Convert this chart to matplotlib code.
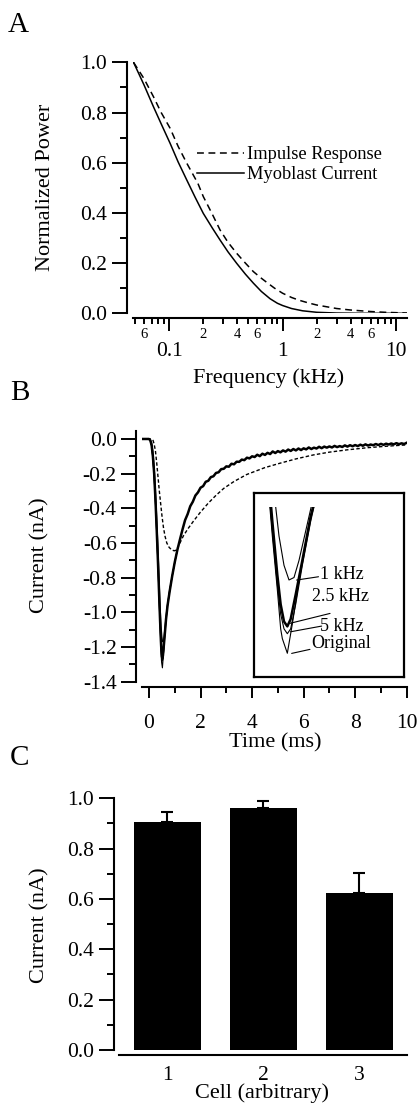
import numpy as np
import matplotlib
matplotlib.use("Agg")
import matplotlib.pyplot as plt
from matplotlib.ticker import FixedLocator, FuncFormatter, MultipleLocator

plt.rcParams['font.family'] = ['Liberation Serif', 'DejaVu Serif']
plt.rcParams['axes.unicode_minus'] = False

# ---- panel A: normalized power spectra ----
freq_myo = [0.0485, 0.060, 0.0727, 0.085, 0.102, 0.120, 0.143, 0.170, 0.200, 0.240, 0.281, 0.330,
            0.394, 0.470, 0.553, 0.650, 0.776, 0.900, 1.0, 1.2, 1.5, 2.0, 3.0, 5.0, 12.5]
pow_myo = [1.0, 0.91, 0.823, 0.755, 0.677, 0.603, 0.531, 0.461, 0.398, 0.340, 0.292, 0.245,
           0.199, 0.156, 0.120, 0.087, 0.058, 0.040, 0.031, 0.019, 0.010, 0.004, 0.001, 0.0, 0.0]
freq_imp = [0.0485, 0.060, 0.0727, 0.085, 0.102, 0.120, 0.143, 0.179, 0.200, 0.240, 0.281, 0.330,
            0.394, 0.470, 0.553, 0.640, 0.726, 0.850, 1.0, 1.2, 1.4, 1.7, 2.0, 3.0, 4.0, 6.0, 8.0, 12.5]
pow_imp = [1.0, 0.935, 0.863, 0.800, 0.737, 0.665, 0.598, 0.518, 0.465, 0.395, 0.332, 0.283,
           0.239, 0.200, 0.166, 0.142, 0.123, 0.100, 0.080, 0.063, 0.052, 0.041, 0.033, 0.019,
           0.013, 0.007, 0.004, 0.001]

# ---- panel B: currents (nA) vs time (ms) ----
t_orig = [-0.28, 0.0, 0.05, 0.10, 0.15, 0.20, 0.25, 0.30, 0.35, 0.40, 0.43, 0.46, 0.48, 0.49,
          0.52, 0.55, 0.60, 0.66, 0.72, 0.80, 0.90, 1.00, 1.10]
i_orig = [0, 0, -0.01, -0.04, -0.11, -0.22, -0.37, -0.55, -0.74, -0.96, -1.08, -1.19, -1.27, -1.29,
          -1.32, -1.26, -1.15, -1.04, -0.96, -0.88, -0.79, -0.71, -0.64]
t_filt = [-0.28, 0.0, 0.05, 0.10, 0.15, 0.20, 0.25, 0.30, 0.35, 0.40, 0.43, 0.46, 0.48, 0.50,
          0.52, 0.54, 0.57, 0.61, 0.66, 0.72, 0.80, 0.90, 1.00, 1.10]
i_5k = [0, 0, -0.01, -0.04, -0.11, -0.22, -0.37, -0.55, -0.74, -0.95, -1.07, -1.18, -1.24, -1.27,
        -1.28, -1.27, -1.22, -1.14, -1.05, -0.96, -0.88, -0.79, -0.71, -0.64]
i_2k5 = [0, 0, -0.008, -0.035, -0.10, -0.20, -0.35, -0.53, -0.72, -0.93, -1.05, -1.16, -1.22, -1.255,
         -1.265, -1.25, -1.20, -1.13, -1.04, -0.96, -0.88, -0.79, -0.71, -0.64]
t_1k = [-0.28, 0.0, 0.05, 0.10, 0.15, 0.20, 0.25, 0.30, 0.35, 0.40, 0.44, 0.47, 0.50, 0.53,
        0.56, 0.59, 0.63, 0.67, 0.72, 0.80, 0.90, 1.00, 1.10]
i_1k = [0, 0, -0.005, -0.02, -0.07, -0.16, -0.29, -0.45, -0.63, -0.84, -0.99, -1.08, -1.14, -1.17,
        -1.165, -1.13, -1.07, -1.01, -0.95, -0.87, -0.79, -0.71, -0.64]

# noisy decay of the recorded current, 1.2 .. 10.0 ms every 0.1 ms
t_tail = np.round(np.arange(1.2, 10.05, 0.1), 1)
i_tail = [-0.580, -0.522, -0.468, -0.433, -0.388, -0.362, -0.326, -0.308, -0.281, -0.272,
          -0.247, -0.241, -0.220, -0.215, -0.196, -0.192, -0.174, -0.172, -0.158, -0.160,
          -0.143, -0.146, -0.131, -0.132, -0.119, -0.122, -0.108, -0.112, -0.100, -0.104,
          -0.091, -0.099, -0.085, -0.092, -0.080, -0.087, -0.072, -0.081, -0.070, -0.077,
          -0.066, -0.073, -0.061, -0.069, -0.058, -0.066, -0.055, -0.064, -0.054, -0.060,
          -0.049, -0.058, -0.050, -0.055, -0.045, -0.053, -0.044, -0.050, -0.043, -0.049,
          -0.040, -0.047, -0.041, -0.046, -0.037, -0.044, -0.036, -0.042, -0.035, -0.041,
          -0.033, -0.039, -0.031, -0.038, -0.032, -0.036, -0.029, -0.035, -0.028, -0.034,
          -0.027, -0.032, -0.026, -0.031, -0.024, -0.030, -0.025, -0.029, -0.022]

t_imp = [-0.28, 0.10, 0.15, 0.20, 0.25, 0.30, 0.35, 0.40, 0.45, 0.50, 0.56, 0.62, 0.69, 0.78, 0.88,
         0.98, 1.07, 1.20, 1.33, 1.50, 1.72, 1.98, 2.30, 2.60, 2.90, 3.30, 3.79, 4.50, 5.08, 5.70,
         6.38, 7.00, 7.67, 8.50, 9.20, 10.0]
i_imp = [0, 0, -0.005, -0.03, -0.07, -0.14, -0.22, -0.30, -0.37, -0.44, -0.51, -0.56, -0.60, -0.625,
         -0.64, -0.645, -0.64, -0.60, -0.56, -0.52, -0.475, -0.425, -0.37, -0.325, -0.285, -0.245,
         -0.205, -0.165, -0.140, -0.115, -0.092, -0.076, -0.063, -0.050, -0.042, -0.034]

# ---- panel C: peak current per cell ----
cells = [1, 2, 3]
cell_labels = ['1', '2', '3']
peak = [0.905, 0.963, 0.623]
peak_err = [0.042, 0.027, 0.081]

W, H = 418, 1106
fig = plt.figure(figsize=(W / 100, H / 100), dpi=100)

def frame(l, t, r, b):
    return [l / W, 1 - b / H, (r - l) / W, (b - t) / H]

PX = 0.72  # points per pixel
TICK_FS = 15.5
LAB_FS = 16

def style(ax):
    for s in ['top', 'right']:
        ax.spines[s].set_visible(False)
    for s in ['left', 'bottom']:
        ax.spines[s].set_linewidth(1.5)
    ax.tick_params(which='both', direction='out', width=1.4, labelsize=TICK_FS, colors='black')

def place_labels(ax, xl, yl):
    ax.xaxis.set_label_coords(*xl)
    ax.yaxis.set_label_coords(*yl)
    ax.xaxis.label.set_va('center')
    ax.yaxis.label.set_va('center')

# ======== A ========
axA = fig.add_axes(frame(133, 62.3, 407, 313.3))
style(axA)
l_myo, = axA.plot(freq_myo, pow_myo, color='black', lw=1.1)
l_imp, = axA.plot(freq_imp, pow_imp, color='black', lw=1.1, dashes=(4.5, 3))
axA.set_xscale('log')
axA.set_xlim(0.048, 12.5)
axA.set_ylim(0, 1.0)
axA.spines['left'].set_position(('outward', 6 * PX))
axA.spines['bottom'].set_position(('outward', 5 * PX))
axA.yaxis.set_major_locator(MultipleLocator(0.2))
axA.yaxis.set_minor_locator(MultipleLocator(0.1))
axA.yaxis.set_major_formatter(FuncFormatter(lambda v, p: '%.1f' % v))
axA.tick_params(axis='y', which='major', length=15 * PX, pad=3.5)
axA.tick_params(axis='y', which='minor', length=7 * PX)
axA.xaxis.set_major_locator(FixedLocator([0.1, 1, 10]))
axA.xaxis.set_major_formatter(FuncFormatter(lambda v, p: '%g' % v))
minor_f = [0.05, 0.06, 0.07, 0.08, 0.09] + [k * 0.1 for k in range(2, 10)] + list(range(2, 10))
axA.xaxis.set_minor_locator(FixedLocator(minor_f))

def minor_lab(v, p):
    d = int(round(v / 10 ** np.floor(np.log10(v) + 1e-9)))
    if abs(v - 0.06) < 1e-6 or (v > 0.15 and d in (2, 4, 6)):
        return str(d)
    return ''

axA.xaxis.set_minor_formatter(FuncFormatter(minor_lab))
axA.tick_params(axis='x', which='major', length=13 * PX, pad=8, labelsize=TICK_FS)
axA.tick_params(axis='x', which='minor', length=6 * PX, pad=3, labelsize=10.5)
axA.set_ylabel('Normalized Power', fontsize=LAB_FS)
axA.set_xlabel('Frequency (kHz)', fontsize=LAB_FS)
place_labels(axA, (0.493, -0.258), (-0.321, 0.50))
axA.legend([l_imp, l_myo], ['Impulse Response', 'Myoblast Current'], loc='upper left',
           bbox_to_anchor=(0.232, 0.665), frameon=False, fontsize=13.2, handlelength=2.6,
           handletextpad=0.15, labelspacing=0.14, borderpad=0, borderaxespad=0)
fig.text(8 / W, 1 - 25 / H, 'A', fontsize=21, va='center', ha='left')

# ======== B ========
axB = fig.add_axes(frame(141.8, 431, 406.7, 681.7))
style(axB)
axB.plot(t_imp, i_imp, color='black', lw=1.0, dashes=(2.5, 1.6))
axB.plot(t_1k, i_1k, color='black', lw=0.8)
axB.plot(t_filt, i_5k, color='black', lw=0.8)
axB.plot(t_orig, i_orig, color='black', lw=0.8)
axB.plot(list(t_filt) + list(t_tail), i_2k5 + i_tail, color='black', lw=1.8)
axB.set_xlim(-0.28, 10.0)
axB.set_ylim(-1.4, 0.046)
axB.spines['left'].set_position(('outward', 6 * PX))
axB.spines['bottom'].set_position(('outward', 5 * PX))
axB.yaxis.set_major_locator(MultipleLocator(0.2))
axB.yaxis.set_minor_locator(MultipleLocator(0.1))
axB.yaxis.set_major_formatter(FuncFormatter(lambda v, p: '%.1f' % v if abs(v) > 1e-9 else '0.0'))
axB.xaxis.set_major_locator(MultipleLocator(2))
axB.xaxis.set_minor_locator(MultipleLocator(1))
axB.tick_params(axis='y', which='major', length=15 * PX, pad=3)
axB.tick_params(axis='y', which='minor', length=7 * PX)
axB.tick_params(axis='x', which='major', length=11 * PX, pad=12)
axB.tick_params(axis='x', which='minor', length=6 * PX)
axB.set_ylabel('Current (nA)', fontsize=LAB_FS)
axB.set_xlabel('Time (ms)', fontsize=LAB_FS)
place_labels(axB, (0.503, -0.2445), (-0.384, 0.505))
fig.text(10 / W, 1 - 393 / H, 'B', fontsize=21, va='center', ha='left')

# inset box and zoomed peak
box = fig.add_axes(frame(254, 493.3, 404, 676.7))
box.set_xticks([])
box.set_yticks([])
for s in box.spines.values():
    s.set_linewidth(1.6)
axI = fig.add_axes(frame(254, 506.7, 404, 676.7))
axI.axis('off')
axI.plot(t_1k, i_1k, color='black', lw=0.8)
axI.plot(t_filt, i_5k, color='black', lw=0.8)
axI.plot(t_orig, i_orig, color='black', lw=0.8)
axI.plot(t_filt, i_2k5, color='black', lw=1.8)
axI.set_xlim(0.32, 1.22)
axI.set_ylim(-1.368, -1.02)
lead = dict(arrowstyle='-', color='black', lw=0.8, shrinkA=0, shrinkB=0)
ins_labels = [('1 kHz', (0.44, 0.555), (0.284, 0.527), (0.43, 0.545)),
              ('2.5 kHz', (0.384, 0.436), (0.24, 0.291), (0.507, 0.345)),
              ('5 kHz', (0.44, 0.276), (0.244, 0.245), (0.451, 0.276)),
              ('Original', (0.384, 0.182), (0.251, 0.127), (0.373, 0.149))]
for txt, tpos, p0, p1 in ins_labels:
    box.text(tpos[0], tpos[1], txt, transform=box.transAxes, fontsize=13, va='center', ha='left')
    box.annotate('', xy=p0, xytext=p1, xycoords='axes fraction', textcoords='axes fraction',
                 arrowprops=lead)

# ======== C ========
axC = fig.add_axes(frame(119.2, 798.3, 407.2, 1050))
style(axC)
axC.bar(cells, peak, width=0.70, color='black')
axC.errorbar(cells, peak, yerr=[[0, 0, 0], peak_err], fmt='none', ecolor='black',
             elinewidth=1.5, capsize=4, capthick=1.5)
axC.set_xlim(0.5, 3.5)
axC.set_ylim(0, 1.0)
axC.spines['left'].set_position(('outward', 5 * PX))
axC.spines['bottom'].set_position(('outward', 5 * PX))
axC.set_xticks(cells)
axC.set_xticklabels(cell_labels)
axC.yaxis.set_major_locator(MultipleLocator(0.2))
axC.yaxis.set_minor_locator(MultipleLocator(0.1))
axC.yaxis.set_major_formatter(FuncFormatter(lambda v, p: '%.1f' % v))
axC.tick_params(axis='y', which='major', length=15 * PX, pad=3.5)
axC.tick_params(axis='y', which='minor', length=7 * PX)
axC.tick_params(axis='x', length=0, pad=8)
axC.set_ylabel('Current (nA)', fontsize=LAB_FS)
axC.set_xlabel('Cell (arbitrary)', fontsize=LAB_FS)
place_labels(axC, (0.495, -0.171), (-0.275, 0.497))
fig.text(10 / W, 1 - 758 / H, 'C', fontsize=21, va='center', ha='left')

fig.savefig('out.png', dpi=100)
